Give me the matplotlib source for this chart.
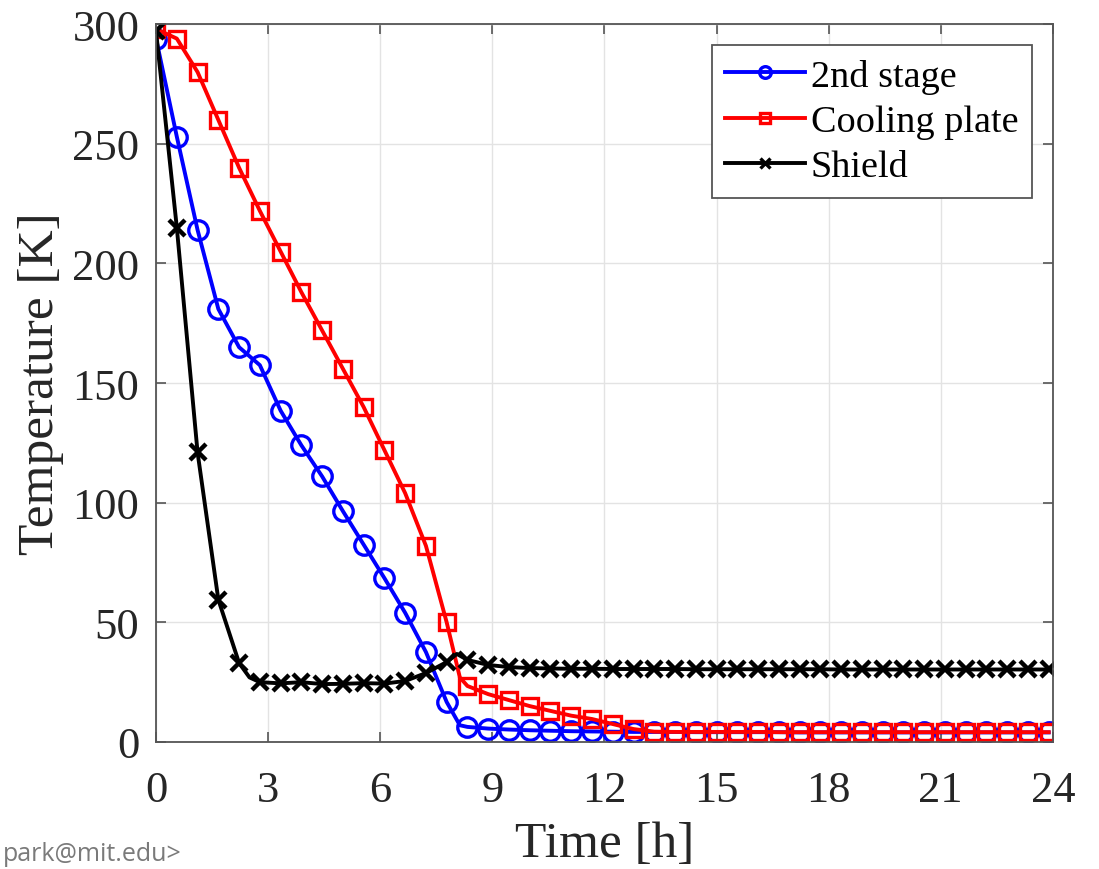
import numpy as np
import matplotlib.pyplot as plt
from matplotlib.lines import Line2D

# marker samples every 2000 s
t_h = np.arange(44) * 2000 / 3600

stage2_T = [294, 253, 214, 181, 165, 157.5, 138.5, 124, 111, 96.5, 82.5, 68.5, 54,
            37.6, 16.7, 6.3, 5.6, 5.2, 4.9, 4.7, 4.5, 4.4, 4.3, 4.2, 4.2, 4.2,
            4.1, 4.1, 4.1, 4.1, 4.1, 4.0, 4.0, 4.0, 4.0, 4.0, 4.0, 4.0, 4.0, 4.0,
            4.0, 4.0, 4.0, 4.0]
plate_T = [298, 294, 280, 260, 240, 222, 205, 188, 172, 156, 140, 122, 104,
           82, 50, 23.4, 20, 17.5, 15, 13, 11, 9.6, 7.5, 5.4, 4.3, 4.2,
           4.2, 4.2, 4.2, 4.2, 4.1, 4.1, 4.1, 4.1, 4.1, 4.1, 4.1, 4.1, 4.1, 4.1,
           4.1, 4.1, 4.1, 4.1]
shield_T = [297, 215, 121, 59.5, 33, 25, 24.5, 25, 24.2, 24.3, 24.6, 24.4, 25.5,
            28.8, 33.4, 34.3, 32.2, 31.3, 30.9, 30.7, 30.6, 30.6, 30.5, 30.5, 30.5, 30.5,
            30.4, 30.4, 30.4, 30.4, 30.4, 30.4, 30.4, 30.3, 30.3, 30.3, 30.3, 30.3, 30.3,
            30.3, 30.3, 30.3, 30.3, 30.3]

# extra points (knees / peak)
stage2_extra = ([8.13], [7.0])
plate_extra = ([8.13], [27.0])
shield_extra = ([2.5, 8.05], [27.0, 36.8])


def line_pts(T, extra):
    t = np.concatenate([t_h, extra[0]])
    y = np.concatenate([T, extra[1]])
    o = np.argsort(t)
    return t[o], y[o]


plt.rcParams['font.family'] = ['Liberation Serif', 'DejaVu Serif']

fig = plt.figure(figsize=(10.99, 8.70), dpi=100)
ax = fig.add_axes([0.142, 0.146, 0.816, 0.825])

series = [
    (stage2_T, stage2_extra, 'blue', 'o', 14, 2.4, '2nd stage'),
    (plate_T, plate_extra, 'red', 's', 12, 2.4, 'Cooling plate'),
    (shield_T, shield_extra, 'black', 'x', 11, 3.2, 'Shield'),
]

handles = []
for T, extra, c, m, ms, mew, lab in series:
    tl, yl = line_pts(T, extra)
    ax.plot(tl, yl, color=c, lw=2.8)
    ax.plot(t_h, T, ls='none', marker=m, ms=ms, mfc='none', mec=c, mew=mew)
    handles.append(Line2D([], [], color=c, lw=2.8, marker=m, ms=ms * 0.6,
                          mfc='none', mec=c, mew=2.4, label=lab))

ax.set_xlim(0, 24)
ax.set_ylim(0, 300)
ax.set_xticks(np.arange(0, 25, 3))
ax.set_yticks(np.arange(0, 301, 50))
ax.grid(True, color='#e3e3e3', lw=1.0)
ax.set_axisbelow(True)
ax.tick_params(direction='in', top=True, right=True, length=7, width=1.2,
               color='#555555', labelsize=32, labelcolor='#262626')
ax.tick_params(axis='x', pad=20)
ax.tick_params(axis='y', pad=12)
for s in ax.spines.values():
    s.set_color('#555555')
    s.set_linewidth(1.3)

ax.set_xlabel('Time [h]', fontsize=37, labelpad=8, color='#262626')
ax.set_ylabel('Temperature [K]', fontsize=37, labelpad=6, color='#262626')

leg = ax.legend(handles=handles, loc='upper right', fontsize=27.5, handlelength=2.1,
                handletextpad=0.15, borderpad=0.35, labelspacing=0.28,
                borderaxespad=0.55, fancybox=False, framealpha=1)
leg.get_frame().set_edgecolor('#555555')
leg.get_frame().set_linewidth(1.3)

fig.text(0.003, 0.004, 'park@mit.edu>', fontsize=18, color='#7a7a7a',
         family=['Open Sans', 'DejaVu Sans'], va='bottom', ha='left')

fig.savefig('out.png', dpi=100)
